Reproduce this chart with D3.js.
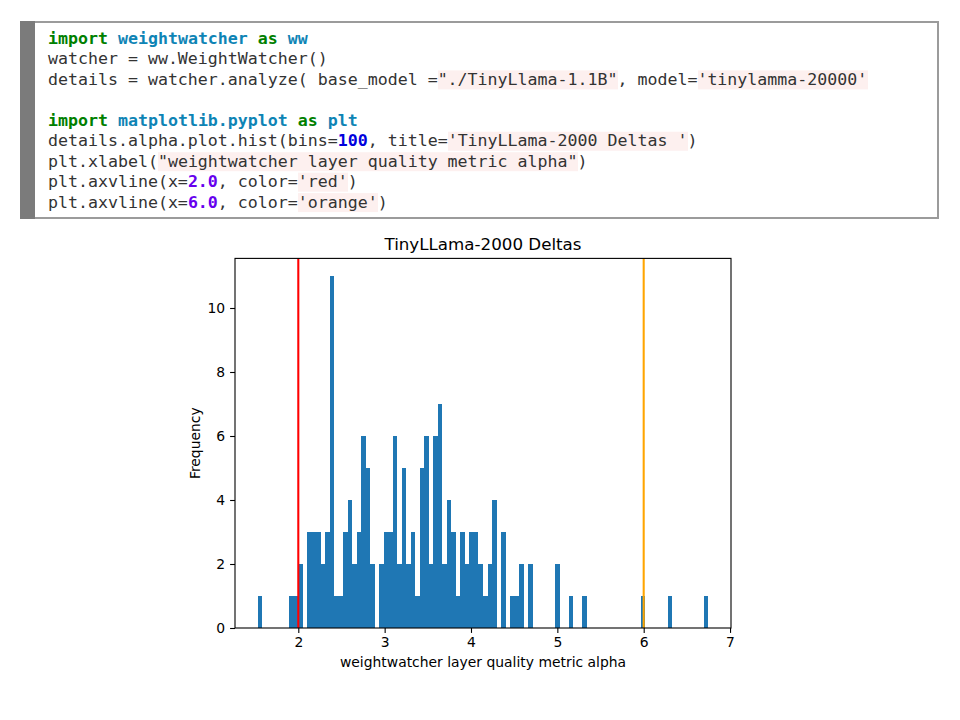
<!DOCTYPE html>
<html>
<head>
<meta charset="utf-8">
<script src="https://cdn.jsdelivr.net/npm/d3@7"></script>
<style>
  body { margin: 0; background: #fff; }
  svg { display: block; }
</style>
</head>
<body>
<svg id="chart" width="960" height="720"></svg>
<script>
// histogram of weightwatcher alpha, 100 bins between alphaMin and alphaMax
var alphaMin = 1.528;
var alphaMax = 6.75;
var binCounts = [
  1, 0, 0, 0, 0, 0, 0, 1, 1, 2,
  0, 3, 3, 3, 2, 3, 11, 1, 1, 3,
  4, 2, 3, 6, 5, 2, 0, 2, 3, 3,
  6, 2, 5, 2, 3, 1, 5, 6, 2, 6,
  7, 2, 4, 3, 1, 3, 2, 3, 3, 2,
  1, 2, 4, 0, 3, 0, 1, 1, 2, 0,
  2, 0, 0, 0, 0, 0, 2, 0, 0, 1,
  0, 0, 1, 0, 0, 0, 0, 0, 0, 0,
  0, 0, 0, 0, 0, 1, 0, 0, 0, 0,
  0, 1, 0, 0, 0, 0, 0, 0, 0, 1
];
var xTicks = [2, 3, 4, 5, 6, 7];
var yTicks = [0, 2, 4, 6, 8, 10];
var refLines = [2.0, 6.0];
var chartTitle = "TinyLLama-2000 Deltas";
var xLabel = "weightwatcher layer quality metric alpha";
var yLabel = "Frequency";

// code cell shown above the chart: [text, kind]
var codeLines = [
  [["import", "kw"], [" "], ["weightwatcher", "mod"], [" "], ["as", "kw"], [" "], ["ww", "mod"]],
  [["watcher = ww.WeightWatcher()"]],
  [["details = watcher.analyze( base_model ="], ["\"./TinyLlama-1.1B\"", "str"], [", model="], ["'tinylamma-20000'", "str"]],
  [],
  [["import", "kw"], [" "], ["matplotlib.pyplot", "mod"], [" "], ["as", "kw"], [" "], ["plt", "mod"]],
  [["details.alpha.plot.hist(bins="], ["100", "int"], [", title="], ["'TinyLLama-2000 Deltas '", "str"], [")"]],
  [["plt.xlabel("], ["\"weightwatcher layer quality metric alpha\"", "str"], [")"]],
  [["plt.axvline(x="], ["2.0", "float"], [", color="], ["'red'", "str"], [")"]],
  [["plt.axvline(x="], ["6.0", "float"], [", color="], ["'orange'", "str"], [")"]]
];

var svg = d3.select("#chart");
svg.append("rect").attr("width", 960).attr("height", 720).attr("fill", "#fff");

// ---- code cell ----
var code = svg.append("g");
code.append("rect")
    .attr("x", 21).attr("y", 22).attr("width", 917).attr("height", 196)
    .attr("fill", "#fff").attr("stroke", "#9b9b9b").attr("stroke-width", 2);
code.append("rect")
    .attr("x", 20).attr("y", 21).attr("width", 15).attr("height", 198)
    .attr("fill", "#7b7b7b");

var charW = 10, codeX = 48, lineH = 20.45, firstBase = 44;
var kindColor = { kw: "#008000", mod: "#0e84b5", int: "#0000dd", float: "#6600ee", str: "#333", undefined: "#333" };

codeLines.forEach(function(tokens, li) {
  var base = firstBase + li * lineH;
  var col = 0;
  tokens.forEach(function(t) {
    if (t[1] === "str") {
      code.append("rect")
          .attr("x", codeX + col * charW).attr("y", base - 14.5)
          .attr("width", t[0].length * charW).attr("height", 19)
          .attr("fill", "#fdf0ef");
    }
    col += t[0].length;
  });
  var txt = code.append("text")
      .attr("x", codeX).attr("y", base)
      .attr("font-family", "'DejaVu Sans Mono', monospace")
      .attr("font-size", "16.6px")
      .attr("xml:space", "preserve")
      .style("white-space", "pre");
  tokens.forEach(function(t) {
    txt.append("tspan")
        .attr("fill", kindColor[t[1]])
        .attr("font-weight", (t[1] && t[1] !== "str") ? "bold" : "normal")
        .text(t[0]);
  });
});

// ---- histogram ----
var ax = { left: 235, top: 258.4, width: 496, height: 369.6 };
var binW = (alphaMax - alphaMin) / binCounts.length;
var span = alphaMax - alphaMin;

var x = d3.scaleLinear()
    .domain([alphaMin - 0.05 * span, alphaMax + 0.05 * span])
    .range([ax.left, ax.left + ax.width]);
var y = d3.scaleLinear()
    .domain([0, d3.max(binCounts) * 1.05])
    .range([ax.top + ax.height, ax.top]);

var bins = binCounts.map(function(c, i) {
  return { x0: alphaMin + i * binW, x1: alphaMin + (i + 1) * binW, n: c };
}).filter(function(b) { return b.n > 0; });

var plot = svg.append("g");
plot.selectAll("rect.bar")
    .data(bins)
    .join("rect")
    .attr("class", "bar")
    .attr("x", function(d) { return x(d.x0); })
    .attr("width", function(d) { return x(d.x1) - x(d.x0); })
    .attr("y", function(d) { return y(d.n); })
    .attr("height", function(d) { return y(0) - y(d.n); })
    .attr("fill", "#1f77b4")
    .attr("shape-rendering", "crispEdges");

var lineColors = ["red", "orange"];
plot.selectAll("line.ref")
    .data(refLines)
    .join("line")
    .attr("class", "ref")
    .attr("x1", function(d) { return x(d); })
    .attr("x2", function(d) { return x(d); })
    .attr("y1", ax.top).attr("y2", ax.top + ax.height)
    .attr("stroke", function(d, i) { return lineColors[i]; })
    .attr("stroke-width", 2.08);

// axes
var tickFont = "'DejaVu Sans', sans-serif";
var xAxis = svg.append("g")
    .attr("transform", "translate(0," + (ax.top + ax.height) + ")")
    .call(d3.axisBottom(x).tickValues(xTicks).tickFormat(d3.format("d"))
          .tickSize(4.9).tickPadding(4.4));
var yAxis = svg.append("g")
    .attr("transform", "translate(" + ax.left + ",0)")
    .call(d3.axisLeft(y).tickValues(yTicks).tickFormat(d3.format("d"))
          .tickSize(4.9).tickPadding(4.9));
[xAxis, yAxis].forEach(function(g) {
  g.select(".domain").remove();
  g.selectAll(".tick line").attr("stroke", "#000").attr("stroke-width", 1.1);
  g.selectAll(".tick text")
      .attr("font-family", tickFont).attr("font-size", "13.9px").attr("fill", "#000");
});

// frame
svg.append("rect")
    .attr("x", ax.left).attr("y", ax.top)
    .attr("width", ax.width).attr("height", ax.height)
    .attr("fill", "none").attr("stroke", "#000").attr("stroke-width", 1.1);

svg.append("text")
    .attr("x", ax.left + ax.width / 2).attr("y", 250)
    .attr("text-anchor", "middle")
    .attr("font-family", tickFont).attr("font-size", "16.7px")
    .text(chartTitle);

svg.append("text")
    .attr("x", ax.left + ax.width / 2).attr("y", 667)
    .attr("text-anchor", "middle")
    .attr("font-family", tickFont).attr("font-size", "13.9px")
    .text(xLabel);

svg.append("text")
    .attr("transform", "translate(200," + (ax.top + ax.height / 2) + ") rotate(-90)")
    .attr("text-anchor", "middle")
    .attr("font-family", tickFont).attr("font-size", "13.9px")
    .text(yLabel);
</script>
</body>
</html>
